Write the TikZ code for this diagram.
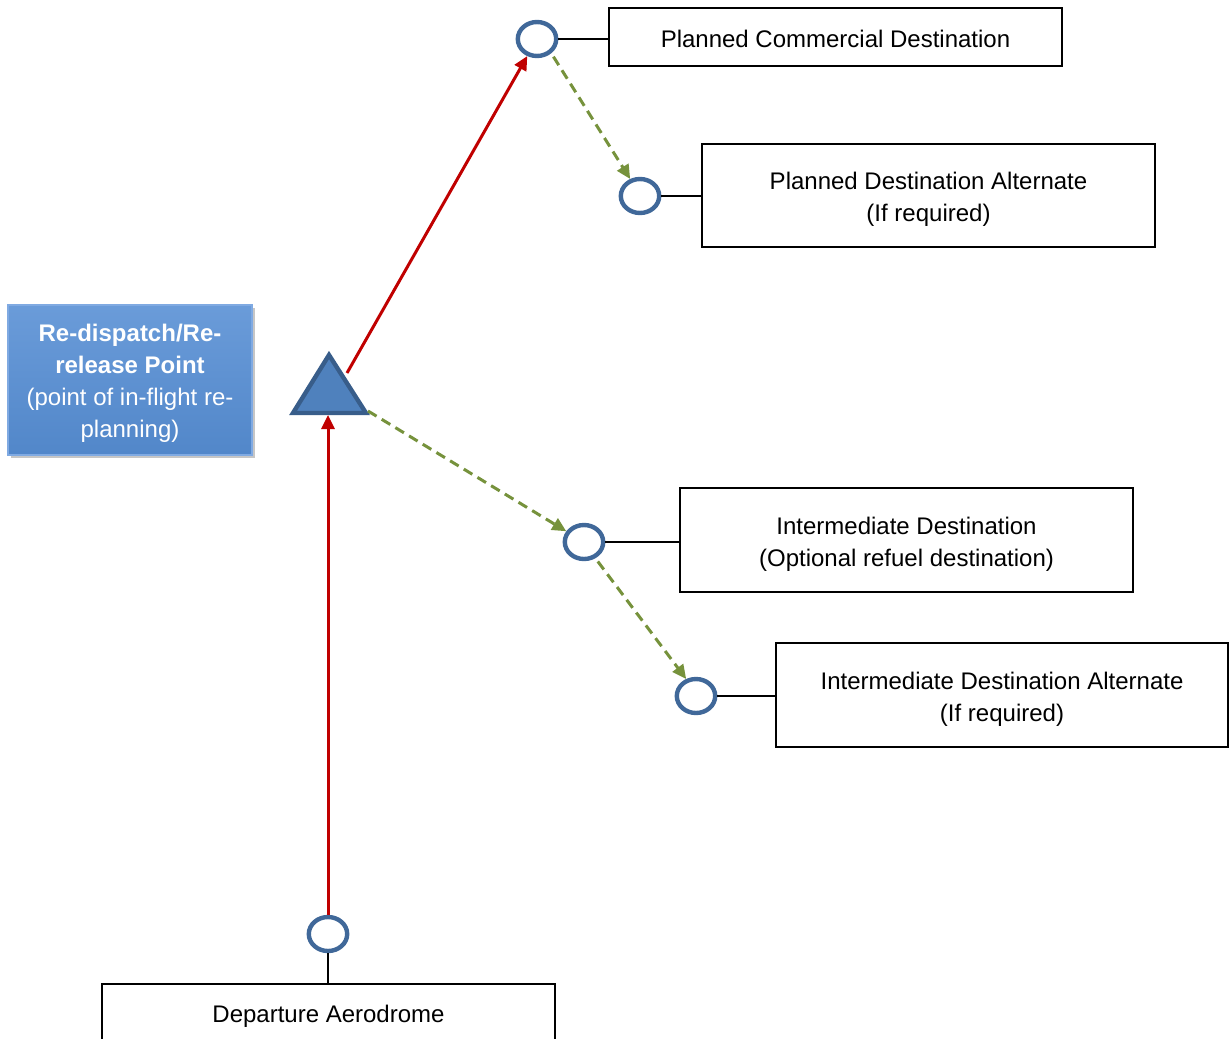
\documentclass[tikz,border=0pt]{standalone}
\usepackage{fontspec}
\setmainfont{Liberation Sans}
\usetikzlibrary{arrows.meta,shapes.geometric,shadows}
\definecolor{ringblue}{RGB}{64,104,153}
\definecolor{triblue}{RGB}{79,129,189}
\definecolor{triedge}{RGB}{56,93,138}
\definecolor{notefill}{RGB}{86,142,212}
\definecolor{noteedge}{RGB}{128,170,226}
\definecolor{routered}{RGB}{192,0,0}
\definecolor{altgreen}{RGB}{118,146,60}

\begin{document}
\begin{tikzpicture}[x=0.5pt,y=-0.5pt,
  every node/.style={font=\fontsize{12}{16}\selectfont},
  ring/.style={draw=ringblue, line width=2.2pt, ellipse, minimum width=19.2pt,
    minimum height=17pt, inner sep=0pt},
  place/.style={draw=black, line width=1pt, rectangle, inner sep=0pt,
    minimum width=226.5pt},
  caption/.style={align=center, inner sep=0pt},
  link/.style={draw=black, line width=1pt},
  route/.style={draw=routered, line width=1.5pt, -{Triangle[length=7pt,width=6.5pt]}},
  option/.style={draw=altgreen, line width=1.5pt, dash pattern=on 5pt off 3pt,
    -{Triangle[length=7pt,width=6.5pt]}},
  note/.style={top color=notefill!88!white, bottom color=notefill!95!black,
    draw=noteedge, line width=0.8pt, minimum width=122pt, minimum height=75pt,
    inner sep=0pt,
    drop shadow={opacity=0.45, shadow xshift=1.5pt, shadow yshift=-1.5pt}},
  notetext/.style={text=white, align=center, inner sep=0pt}
]
\useasboundingbox (0,0) rectangle (1229,1038);
\clip (0,0) rectangle (1229,1038);

% airports along the route
\node[ring] (c1) at (537,39) {};
\node[ring] (c2) at (640,196) {};
\node[ring] (c3) at (584,542) {};
\node[ring] (c4) at (696,696) {};
\node[ring] (c5) at (328,934) {};

% label boxes of the airports
\node[place, minimum height=29pt] (pcd) at (835.5,37) {};
\node[place, minimum height=51.5pt] (pda) at (928.5,195.5) {};
\node[place, minimum height=52pt] (idd) at (906.5,540) {};
\node[place, minimum height=52pt, minimum width=226pt] (ida) at (1002,695) {};
\node[place, minimum height=30pt] (dep) at (328.5,1014) {};

% their texts, set a little below the box centres
\node[caption] (pcdtext) at ([yshift=-1pt]pcd.center) {Planned Commercial Destination};
\node[caption] (pdatext) at ([yshift=-2pt]pda.center) {Planned Destination Alternate\\(If required)};
\node[caption] (iddtext) at ([yshift=-2pt]idd.center) {Intermediate Destination\\(Optional refuel destination)};
\node[caption] (idatext) at ([yshift=-2pt]ida.center) {Intermediate Destination Alternate\\(If required)};
\node[caption] (deptext) at ([yshift=-1pt]dep.center) {Departure Aerodrome};

% re-dispatch point marker
\draw[fill=triblue, draw=triedge, line width=2.2pt]
  (329,355) -- (366,413) -- (293,413) -- cycle;
\coordinate (tribase) at (328,415);
\coordinate (triside) at (347,373);
\coordinate (tricorner) at (368,411);

% note box
\node[note] (note) at (130,380) {};
\node[notetext] (notetext) at ([yshift=-1.5pt]note.center)
  {\textbf{Re-dispatch/Re-}\\\textbf{release Point}\\(point of in-flight re-\\planning)};

% ties between airports and labels
\draw[link] (c1) -- (pcd.west |- c1);
\draw[link] (c2) -- (pda.west |- c2);
\draw[link] (c3) -- (idd.west |- c3);
\draw[link] (c4) -- (ida.west |- c4);
\draw[link] (c5) -- (dep.north -| c5);

% planned route
\draw[route] (c5.north) -- (tribase);
\draw[route] (triside) -- (c1);

% alternate legs
\draw[option, shorten <=2pt] (c1.315) -- (c2.120);
\draw[option] (tricorner) -- (c3);
\draw[option, shorten <=2pt] (c3.305) -- (c4.120);
\end{tikzpicture}
\end{document}
